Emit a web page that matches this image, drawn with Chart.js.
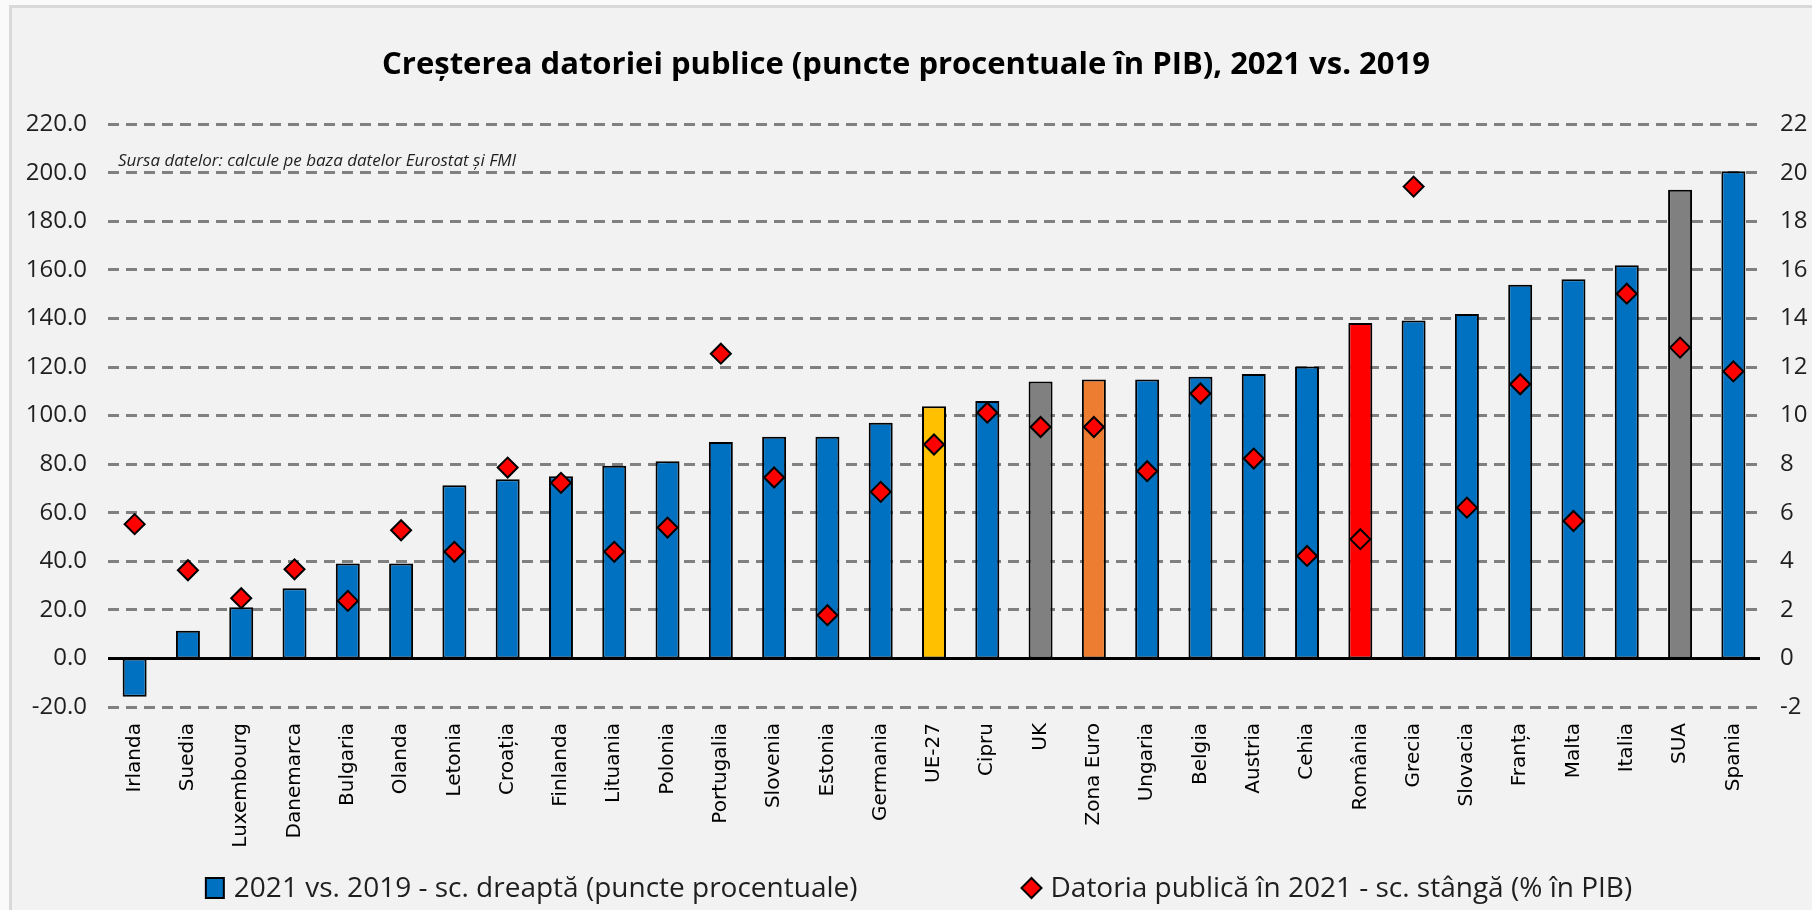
<!DOCTYPE html>
<html>
<head>
<meta charset="utf-8">
<title>Creșterea datoriei publice</title>
<script src="https://cdn.jsdelivr.net/npm/chart.js@4.4.0/dist/chart.umd.min.js"></script>
<style>
  html, body { margin: 0; padding: 0; background: #fafafa; }
  #grafic { display: block; }
</style>
</head>
<body>
<canvas id="grafic" width="1812" height="910"></canvas>
<script>
// Date
const tari = ['Irlanda', 'Suedia', 'Luxembourg', 'Danemarca', 'Bulgaria', 'Olanda', 'Letonia', 'Croația',
  'Finlanda', 'Lituania', 'Polonia', 'Portugalia', 'Slovenia', 'Estonia', 'Germania', 'UE-27', 'Cipru', 'UK',
  'Zona Euro', 'Ungaria', 'Belgia', 'Austria', 'Cehia', 'România', 'Grecia', 'Slovacia', 'Franța', 'Malta',
  'Italia', 'SUA', 'Spania'];

// 2021 vs. 2019 (puncte procentuale) - scala din dreapta
const crestere = [-1.58, 1.14, 2.11, 2.89, 3.91, 3.91, 7.13, 7.38, 7.50, 7.93, 8.12, 8.91, 9.13, 9.13, 9.71,
  10.38, 10.60, 11.40, 11.49, 11.49, 11.60, 11.71, 12.02, 13.81, 13.92, 14.18, 15.39, 15.61, 16.19, 19.30, 20.06];

// Datoria publica in 2021 (% in PIB) - scala din stanga
const datorie = [55.3, 36.3, 24.8, 36.7, 23.7, 52.8, 43.9, 78.6, 72.3, 43.9, 53.9, 125.5, 74.5, 17.8, 68.6,
  88.1, 101.2, 95.3, 95.3, 77.1, 109.1, 82.3, 42.2, 49.1, 194.3, 62.1, 112.9, 56.6, 150.2, 128.0, 118.2];

const ticksStanga = [-20, 0, 20, 40, 60, 80, 100, 120, 140, 160, 180, 200, 220];
const ticksDreapta = [-2, 0, 2, 4, 6, 8, 10, 12, 14, 16, 18, 20, 22];

const titlu = 'Creșterea datoriei publice (puncte procentuale în PIB), 2021 vs. 2019';
const sursa = 'Sursa datelor: calcule pe baza datelor Eurostat și FMI';
const etichetaBare = '2021 vs. 2019 - sc. dreaptă (puncte procentuale)';
const etichetaPuncte = 'Datoria publică în 2021 - sc. stângă (% în PIB)';

// culori speciale pentru agregate si Romania
function culoareBara(tara) {
  switch (tara) {
    case 'UE-27': return '#FFC000';
    case 'Zona Euro': return '#ED7D31';
    case 'UK':
    case 'SUA': return '#808080';
    case 'România': return '#FF0000';
    default: return '#0070C0';
  }
}

const albastru = '#0070C0';
const rosu = '#FF0000';
const text = '#1f1f1f';

// fundal + chenar
const fundal = {
  id: 'fundal',
  beforeDraw(chart) {
    const ctx = chart.ctx;
    ctx.save();
    ctx.fillStyle = '#fafafa';
    ctx.fillRect(0, 0, chart.width, chart.height);
    ctx.fillStyle = '#f2f2f2';
    ctx.fillRect(10, 6, chart.width, chart.height);
    ctx.strokeStyle = '#d9d9d9';
    ctx.lineWidth = 3;
    ctx.strokeRect(10.5, 6.5, chart.width + 10, chart.height + 10);
    ctx.restore();
  }
};

// nota cu sursa datelor
const nota = {
  id: 'nota',
  afterDraw(chart) {
    const ctx = chart.ctx;
    const a = chart.chartArea;
    ctx.save();
    ctx.font = 'italic 17px "Open Sans"';
    ctx.fillStyle = text;
    ctx.textBaseline = 'middle';
    ctx.fillText(sursa, a.left + 10, a.top + 37);
    ctx.restore();
  }
};

// legenda desenata manual (distanta mare intre elemente)
const legenda = {
  id: 'legenda',
  afterDraw(chart) {
    const ctx = chart.ctx;
    const ds = chart.data.datasets;
    ctx.save();
    ctx.font = '28px "Open Sans"';
    ctx.textBaseline = 'middle';
    const w1 = ctx.measureText(ds[0].label).width;
    const w2 = ctx.measureText(ds[1].label).width;
    const gap = 164;
    const total = 28 + w1 + gap + 29 + w2;
    let x = chart.width / 2 + 13 - total / 2;
    const y = 888;

    ctx.fillStyle = albastru;
    ctx.strokeStyle = '#000';
    ctx.lineWidth = 2;
    ctx.fillRect(x, y - 10, 18, 20);
    ctx.strokeRect(x, y - 10, 18, 20);
    ctx.fillStyle = text;
    ctx.fillText(ds[0].label, x + 28, y + 1);

    x += 28 + w1 + gap;
    ctx.beginPath();
    ctx.moveTo(x + 10, y - 10);
    ctx.lineTo(x + 20, y);
    ctx.lineTo(x + 10, y + 10);
    ctx.lineTo(x, y);
    ctx.closePath();
    ctx.fillStyle = rosu;
    ctx.fill();
    ctx.stroke();
    ctx.fillStyle = text;
    ctx.fillText(ds[1].label, x + 29, y + 1);
    ctx.restore();
  }
};

const ctx = document.getElementById('grafic').getContext('2d');
const chart = new Chart(ctx, {
  type: 'bar',
  data: {
    labels: tari,
    datasets: [{
      type: 'bar',
      label: etichetaBare,
      data: crestere,
      yAxisID: 'y1',
      backgroundColor: tari.map(culoareBara),
      borderColor: '#000000',
      borderWidth: 2,
      borderSkipped: false,
      barPercentage: 0.45,
      categoryPercentage: 1,
      order: 2
    }, {
      type: 'line',
      label: etichetaPuncte,
      data: datorie,
      yAxisID: 'y',
      showLine: false,
      pointStyle: 'rectRot',
      pointRadius: 10,
      pointHoverRadius: 10,
      pointBackgroundColor: rosu,
      pointBorderColor: '#000000',
      pointBorderWidth: 2,
      order: 1
    }]
  },
  options: {
    responsive: false,
    animation: false,
    devicePixelRatio: 1,
    layout: { padding: { top: 0, bottom: 60, left: 0, right: 0 } },
    plugins: {
      legend: { display: false },
      tooltip: { enabled: false },
      title: {
        display: true,
        text: titlu,
        color: '#000000',
        font: { family: '"Open Sans"', size: 31, weight: 'bold' },
        padding: { top: 47, bottom: 40 }
      }
    },
    scales: {
      x: {
        grid: { display: false, drawTicks: false },
        border: { display: false },
        ticks: {
          color: '#000000',
          font: { family: '"DejaVu Sans"', size: 20 },
          minRotation: 90,
          maxRotation: 90,
          autoSkip: false,
          padding: 16
        },
        afterFit(scale) { scale.height = 143; }
      },
      y: {
        position: 'left',
        min: ticksStanga[0],
        max: ticksStanga[ticksStanga.length - 1],
        afterBuildTicks(scale) { scale.ticks = ticksStanga.map(v => ({ value: v })); },
        grid: {
          color: c => (c.tick && c.tick.value === 0) ? '#000000' : '#808080',
          lineWidth: 3,
          drawTicks: false
        },
        border: {
          display: false,
          dash: c => (c.tick && c.tick.value === 0) ? [] : [11, 7]
        },
        ticks: {
          color: text,
          font: { family: '"Open Sans"', size: 24 },
          padding: 21,
          callback: v => Number(v).toFixed(1)
        },
        afterFit(scale) { scale.width = 108; }
      },
      y1: {
        position: 'right',
        min: ticksDreapta[0],
        max: ticksDreapta[ticksDreapta.length - 1],
        afterBuildTicks(scale) { scale.ticks = ticksDreapta.map(v => ({ value: v })); },
        grid: { display: false, drawTicks: false },
        border: { display: false },
        ticks: {
          color: text,
          font: { family: '"Open Sans"', size: 24 },
          padding: 20,
          callback: v => String(v)
        },
        afterFit(scale) { scale.width = 52; }
      }
    }
  },
  plugins: [fundal, nota, legenda]
});
</script>
</body>
</html>
